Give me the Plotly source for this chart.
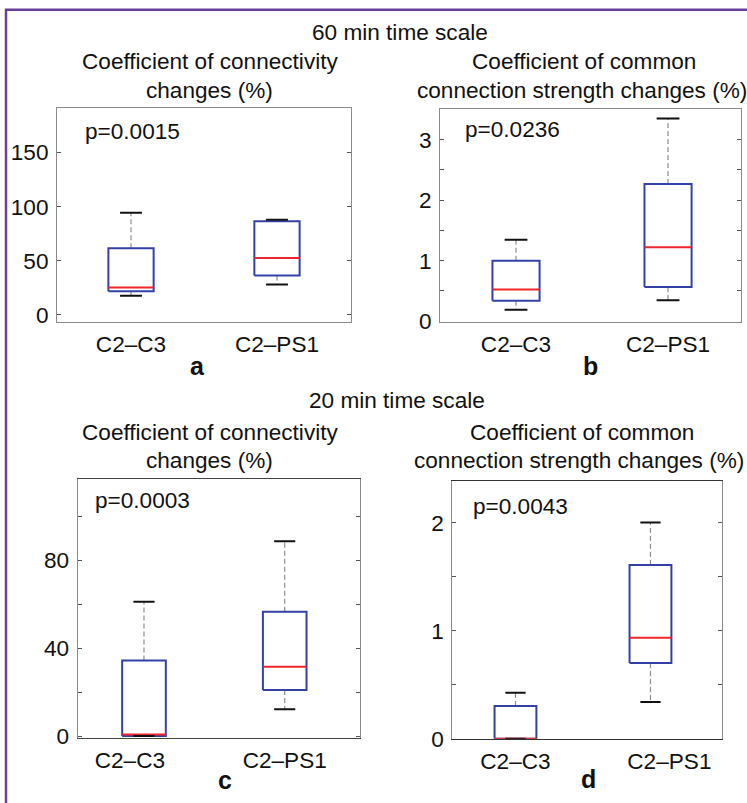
import plotly.graph_objects as go

# ---------------- data ----------------
categories = ["C2–C3", "C2–PS1"]

# panel a: 60 min, coefficient of connectivity changes (%)
a_lower = [17.6, 27.9]
a_q1 = [21.8, 36.4]
a_median = [25.2, 52.4]
a_q3 = [61.5, 86.4]
a_upper = [94.3, 87.9]
a_ticks = [0, 50, 100, 150]
a_p = "p=0.0015"

# panel b: 60 min, coefficient of common connection strength changes (%)
b_lower = [0.187, 0.345]
b_q1 = [0.338, 0.566]
b_median = [0.523, 1.222]
b_q3 = [1.0, 2.268]
b_upper = [1.346, 3.351]
b_ticks = [0, 1, 2, 3]
b_p = "p=0.0236"

# panel c: 20 min, coefficient of connectivity changes (%)
c_lower = [0.0, 12.2]
c_q1 = [0.0, 21.0]
c_median = [0.7, 31.5]
c_q3 = [34.4, 56.5]
c_upper = [61.1, 88.6]
c_ticks = [0, 40, 80]
c_p = "p=0.0003"

# panel d: 20 min, coefficient of common connection strength changes (%)
d_lower = [0.0, 0.341]
d_q1 = [0.0, 0.702]
d_median = [0.0, 0.936]
d_q3 = [0.305, 1.61]
d_upper = [0.427, 2.004]
d_ticks = [0, 1, 2]
d_p = "p=0.0043"

title_conn = ["Coefficient of connectivity", "changes (%)"]
title_str = ["Coefficient of common", "connection strength changes (%)"]
header_60 = "60 min time scale"
header_20 = "20 min time scale"
panel_letters = ["a", "b", "c", "d"]

# ---------------- style ----------------
W, H = 747, 803
FONT = "Liberation Sans, Arial, sans-serif"
FS = 22.6
BLUE = "#3340a6"
RED = "#f0252b"
FRAME = "#8a8a8a"
TXT = "#111111"
BOX_HALF = 0.155
CAP_HALF = 0.075


def px(x):
    return x / W


def py(y):
    return 1 - y / H


fig = go.Figure()

panels = [
    dict(lower=a_lower, q1=a_q1, med=a_median, q3=a_q3, upper=a_upper,
         ticks=a_ticks, minor=None, p=a_p, dom=(57, 351, 110, 327),
         xr=[0.493, 2.507], yr=[-6.4, 191], xline=FRAME, shift=[0, 0]),
    dict(lower=b_lower, q1=b_q1, med=b_median, q3=b_q3, upper=b_upper,
         ticks=b_ticks, minor=0.5, p=b_p, dom=(440, 740.7, 110.7, 327),
         xr=[0.5, 2.478], yr=[-0.01, 3.51], xline=FRAME, shift=[0, 0]),
    dict(lower=c_lower, q1=c_q1, med=c_median, q3=c_q3, upper=c_upper,
         ticks=c_ticks, minor=20, p=c_p, dom=(77.7, 360, 486.7, 750),
         xr=[0.529, 2.535], yr=[-0.8, 117], xline="#444444", shift=[-0.1, 0]),
    dict(lower=d_lower, q1=d_q1, med=d_median, q3=d_q3, upper=d_upper,
         ticks=d_ticks, minor=0.5, p=d_p, dom=(452.3, 722.3, 489.3, 751),
         xr=[0.532, 2.532], yr=[0, 2.385], xline="#333333", shift=[0, 0.14]),
]

p_pos = [(83.3, 134), (463.3, 131.7), (93.3, 508.3), (470.7, 515)]
letter_pos = [(197.7, 371.7), (590, 371.7), (225, 793.3), (588.3, 791.7)]

annotations = []
for k, pn in enumerate(panels):
    ax = "" if k == 0 else str(k + 1)
    xa, ya = "x" + ax, "y" + ax
    pos = [i + 1 for i in range(len(categories))]

    wx, wy, bx, by, mx, my, cx, cy = [], [], [], [], [], [], [], []
    for i, p in enumerate(pos):
        wx += [p, p, None, p, p, None]
        wy += [pn["q3"][i], pn["upper"][i], None, pn["q1"][i], pn["lower"][i], None]
        bx += [p - BOX_HALF, p + BOX_HALF, p + BOX_HALF, p - BOX_HALF, p - BOX_HALF, None]
        by += [pn["q1"][i], pn["q1"][i], pn["q3"][i], pn["q3"][i], pn["q1"][i], None]
        mx += [p - BOX_HALF, p + BOX_HALF, None]
        my += [pn["med"][i], pn["med"][i], None]
        cx += [p - CAP_HALF, p + CAP_HALF, None, p - CAP_HALF, p + CAP_HALF, None]
        cy += [pn["upper"][i], pn["upper"][i], None, pn["lower"][i], pn["lower"][i], None]

    fig.add_trace(go.Scatter(x=wx, y=wy, mode="lines", xaxis=xa, yaxis=ya,
                             line=dict(color="#8c8c8c", width=1.2, dash="5px,3px"),
                             hoverinfo="skip", showlegend=False))
    fig.add_trace(go.Scatter(x=bx, y=by, mode="lines", xaxis=xa, yaxis=ya,
                             line=dict(color=BLUE, width=2), fill="toself",
                             fillcolor="white", hoverinfo="skip", showlegend=False))
    fig.add_trace(go.Scatter(x=mx, y=my, mode="lines", xaxis=xa, yaxis=ya,
                             line=dict(color=RED, width=2),
                             hoverinfo="skip", showlegend=False))
    fig.add_trace(go.Scatter(x=cx, y=cy, mode="lines", xaxis=xa, yaxis=ya,
                             line=dict(color="#111111", width=2),
                             hoverinfo="skip", showlegend=False))

    x0, x1, y0, y1 = pn["dom"]
    xaxis = dict(domain=[px(x0), px(x1)], range=pn["xr"], anchor=ya,
                 showline=True, mirror=True, linecolor=pn["xline"], linewidth=1,
                 ticks="", showgrid=False, zeroline=False,
                 tickvals=[p + s for p, s in zip(pos, pn["shift"])],
                 ticktext=categories, ticklabelstandoff=2,
                 tickfont=dict(family=FONT, size=FS, color=TXT), fixedrange=True)
    yaxis = dict(domain=[py(y1), py(y0)], range=pn["yr"], anchor=xa,
                 showline=True, mirror="ticks", linecolor=FRAME, linewidth=1,
                 ticks="inside", ticklen=4, tickcolor="#555555", tickwidth=1,
                 tickvals=pn["ticks"], showgrid=False, zeroline=False,
                 ticklabelstandoff=3,
                 tickfont=dict(family=FONT, size=FS, color=TXT), fixedrange=True)
    if pn["minor"]:
        yaxis["minor"] = dict(dtick=pn["minor"], ticks="inside", ticklen=4,
                              tickcolor="#555555", showgrid=False)
    fig.update_layout({"xaxis" + ax: xaxis, "yaxis" + ax: yaxis})

    annotations.append(dict(text=pn["p"], x=px(p_pos[k][0]), y=py(p_pos[k][1]),
                            xref="paper", yref="paper", xanchor="left", yanchor="middle",
                            showarrow=False, font=dict(family=FONT, size=FS, color=TXT)))
    annotations.append(dict(text="<b>" + panel_letters[k] + "</b>",
                            x=px(letter_pos[k][0]), y=py(letter_pos[k][1]),
                            xref="paper", yref="paper", xanchor="center", yanchor="middle",
                            showarrow=False, font=dict(family=FONT, size=25, color=TXT)))

# titles, one annotation per line
title_lines = [
    (title_conn[0], 209.7, 63, "center"), (title_conn[1], 209.7, 92, "center"),
    (title_str[0], 584, 63, "center"), (title_str[1], 415, 92, "left"),
    (title_conn[0], 209.7, 439.3, "center"), (title_conn[1], 209.7, 468.3, "center"),
    (title_str[0], 581.5, 439.3, "center"), (title_str[1], 412, 468.3, "left"),
]
for text, x, y, anc in title_lines:
    annotations.append(dict(text=text, x=px(x), y=py(y), xref="paper", yref="paper",
                            xanchor=anc, yanchor="middle", showarrow=False,
                            font=dict(family=FONT, size=FS, color=TXT)))
for text, x, y in [(header_60, 400, 33), (header_20, 396.7, 406.7)]:
    annotations.append(dict(text=text, x=px(x), y=py(y), xref="paper", yref="paper",
                            xanchor="center", yanchor="middle", showarrow=False,
                            font=dict(family=FONT, size=FS, color=TXT)))

fig.update_layout(
    width=W, height=H,
    margin=dict(l=0, r=0, t=0, b=0),
    paper_bgcolor="white", plot_bgcolor="white",
    showlegend=False,
    annotations=annotations,
    shapes=[dict(type="rect", xref="paper", yref="paper",
                 x0=px(6), x1=1.05, y0=-0.05, y1=py(10),
                 line=dict(color="#6b4099", width=2.5), layer="above")],
)

fig.write_html(
    "out.html",
    config={"displayModeBar": False},
    post_script="document.body.style.margin='0';document.body.style.overflow='hidden';",
)
